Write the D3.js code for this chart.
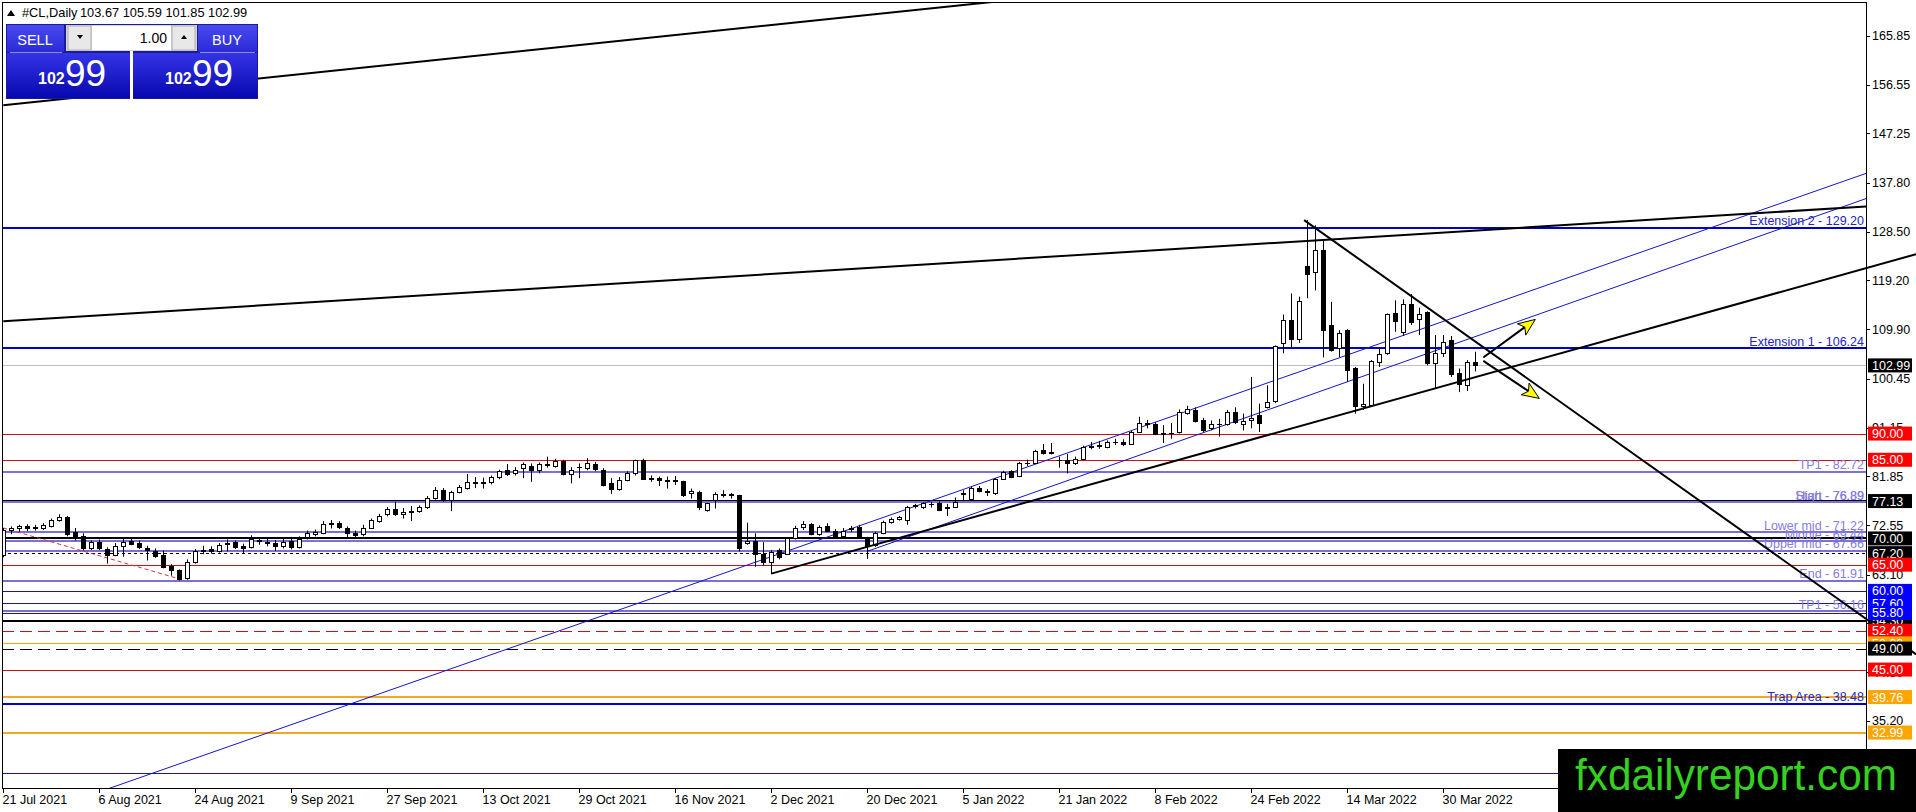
<!DOCTYPE html>
<html><head><meta charset="utf-8">
<script src="https://cdn.jsdelivr.net/npm/d3@7"></script>
<style>
html,body{margin:0;padding:0;background:#fff;overflow:hidden}
svg{display:block}
text{font-family:"Liberation Sans",Arial,sans-serif}
</style></head><body>
<svg id="c" width="1916" height="812"></svg>
<script>
// ---------------- DATA ----------------
const symbolTitle = "#CL,Daily";
const headerValues = "103.67 105.59 101.85 102.99";
const opens = [66.9,71.6,71.9,72.3,71.9,72.0,72.4,73.6,74.0,71.3,
70.5,68.2,69.3,67.9,66.9,68.6,69.5,69.1,68.2,67.7,
66.8,64.7,63.9,62.4,65.6,67.6,67.9,67.6,69.2,69.4,
68.6,68.4,69.7,69.4,69.2,68.5,69.5,68.3,70.2,70.9,
71.1,72.8,73.0,72.0,71.1,70.9,72.0,73.3,74.6,75.6,
74.7,75.0,75.2,76.0,77.8,79.2,77.3,78.9,79.7,80.7,
80.6,80.7,81.7,83.0,82.4,83.5,83.8,83.0,84.0,83.8,
84.7,82.3,83.6,83.4,84.2,83.1,80.5,79.5,81.2,82.4,
84.9,81.5,81.5,81.2,80.9,80.9,78.6,78.9,75.5,77.3,
78.3,78.4,78.2,69.2,69.5,67.1,65.6,67.8,67.1,70.0,
72.1,72.7,70.8,72.3,71.4,70.4,71.8,72.1,69.8,68.8,
71.0,73.2,73.8,73.6,76.1,76.0,76.6,76.8,76.0,76.0,
78.5,77.6,79.7,79.0,78.6,81.4,82.8,81.9,84.3,84.4,
86.8,86.3,85.0,85.0,84.3,85.2,87.5,87.6,87.5,88.3,
88.4,88.1,90.3,92.0,91.8,90.0,90.1,90.3,94.0,94.5,
92.5,91.0,91.8,91.9,94.2,91.8,92.5,93.5,95.1,96.2,
107.3,111.6,108.1,121.9,120.8,125.0,110.7,106.3,109.7,102.5,
95.3,95.4,103.7,105.3,112.9,109.4,114.7,111.9,113.1,103.5,
105.4,107.8,101.6,99.2,103.67];
const highs = [72.0,72.3,72.6,72.7,72.6,72.9,73.8,74.6,74.3,72.0,
71.0,69.6,69.8,68.3,69.1,69.9,69.9,69.6,68.6,68.1,
67.7,65.1,64.1,66.0,68.0,68.6,68.5,69.1,69.8,69.6,
69.0,70.6,70.2,69.9,69.7,69.9,70.3,70.4,71.5,71.7,
73.3,73.5,73.3,72.3,71.5,72.6,73.8,74.7,76.0,77.0,
75.8,76.2,76.3,78.1,79.8,79.6,79.1,80.2,82.3,81.7,
81.6,82.0,83.1,84.2,83.6,84.5,84.3,84.5,85.6,85.2,
85.0,83.6,84.3,85.3,84.6,83.4,81.5,81.7,82.8,85.0,
85.2,82.0,81.8,81.8,81.9,81.0,79.5,79.1,76.8,78.8,
79.2,78.7,78.3,73.0,71.0,69.3,67.8,68.1,70.0,72.4,
73.3,72.9,72.5,72.9,71.8,72.0,72.4,72.6,70.3,71.3,
73.4,74.0,74.3,76.2,76.6,76.9,77.0,77.1,76.6,77.8,
79.2,79.9,80.0,79.4,81.5,82.9,83.0,84.6,85.0,86.9,
88.0,88.2,85.6,86.1,85.6,87.7,88.4,88.6,88.7,89.0,
88.9,90.5,93.2,92.6,92.2,91.6,92.0,94.6,95.3,95.0,
93.0,92.5,92.8,94.5,95.0,93.8,100.8,95.7,99.2,106.8,
112.7,116.7,116.1,130.7,129.7,126.9,115.1,109.7,109.9,102.7,
99.5,104.0,106.5,112.9,115.4,115.6,116.6,114.0,113.3,108.8,
108.8,108.6,102.4,104.0,105.59];
const lows = [66.4,70.8,71.3,71.4,71.5,71.6,72.1,73.2,70.4,69.6,
67.7,67.8,67.8,65.2,66.6,66.5,68.7,68.0,65.8,66.3,
64.3,62.9,62.0,62.1,65.2,67.0,67.1,67.3,67.5,68.0,
67.2,68.1,68.8,68.5,67.6,68.1,67.9,68.1,69.8,70.4,
70.8,71.9,71.8,70.0,70.1,70.4,71.9,73.0,74.2,74.3,
73.8,73.3,74.9,75.6,77.4,77.0,75.2,78.6,79.3,79.6,
79.5,80.3,81.3,81.9,82.0,81.5,80.8,82.4,83.5,83.5,
82.0,80.5,81.5,83.0,82.8,79.9,78.5,79.1,80.9,82.0,
81.2,80.8,80.0,79.5,80.2,77.9,77.6,75.4,75.1,75.7,
77.8,77.6,67.5,68.8,64.6,64.8,63.2,66.0,66.9,69.8,
71.6,70.6,70.5,71.2,70.2,69.9,71.2,70.0,66.1,68.4,
70.8,72.8,73.4,72.6,75.7,75.6,75.9,75.2,74.3,75.8,
77.1,77.4,78.8,78.1,78.3,81.2,81.5,81.7,83.8,84.2,
86.0,86.0,83.5,82.4,84.0,85.0,87.0,87.1,87.2,87.8,
87.6,87.9,90.1,91.0,89.7,88.2,89.0,90.0,93.6,92.1,
90.3,90.6,89.4,91.5,91.8,90.6,91.0,90.3,94.8,95.8,
105.3,106.5,107.3,115.8,117.3,104.5,105.6,104.6,99.9,93.8,
94.5,95.2,102.7,105.0,109.4,108.6,110.7,108.8,103.0,98.6,
104.6,100.8,97.9,98.1,101.85];
const closes = [71.6,72.0,72.3,71.9,72.1,72.5,73.6,74.0,70.9,70.3,
68.1,69.3,68.1,66.9,68.6,69.4,69.0,68.3,67.8,66.7,
64.6,63.9,62.3,65.6,67.6,67.8,67.6,68.7,69.0,68.4,
68.2,69.8,69.5,69.2,68.5,69.4,68.3,69.8,71.0,71.2,
72.8,72.9,72.2,71.1,70.7,72.0,73.5,74.3,75.6,74.6,
75.0,75.3,76.0,77.8,79.2,77.3,78.9,79.8,80.8,80.6,
80.7,81.8,82.9,82.3,83.1,84.2,83.1,84.2,84.1,84.8,
82.3,83.1,83.7,84.3,83.3,80.2,79.5,81.2,82.4,84.9,
81.4,81.4,81.2,81.0,81.1,78.3,79.1,76.0,76.7,78.5,
78.4,78.2,68.2,69.5,67.1,65.5,67.4,66.5,70.0,71.9,
72.8,70.8,72.1,71.4,70.4,71.4,71.9,70.2,68.5,71.1,
73.2,73.8,74.0,76.0,76.3,76.7,76.5,75.4,75.8,77.0,
78.7,79.7,79.1,78.8,81.4,82.7,81.7,84.4,84.4,86.7,
86.2,86.5,84.9,84.3,85.2,87.5,87.6,87.8,88.3,88.4,
88.0,90.3,92.0,91.9,89.9,90.1,90.2,94.1,94.6,92.4,
90.6,91.8,91.9,94.1,92.2,92.4,93.0,92.0,96.0,106.6,
111.6,108.1,115.2,120.5,125.0,109.8,106.0,109.2,102.1,95.3,
95.6,103.8,105.1,112.8,111.5,114.7,111.3,112.7,103.5,105.3,
107.5,101.3,99.5,103.7,102.99];

const dateLabels = ["21 Jul 2021","6 Aug 2021","24 Aug 2021","9 Sep 2021","27 Sep 2021","13 Oct 2021","29 Oct 2021","16 Nov 2021","2 Dec 2021","20 Dec 2021","5 Jan 2022","21 Jan 2022","8 Feb 2022","24 Feb 2022","14 Mar 2022","30 Mar 2022"];
const dateLabelBars = [0,12,24,36,48,60,72,84,96,108,120,132,144,156,168,180];
const priceTicks = [165.85,156.55,147.25,137.80,128.50,119.20,109.90,100.45,91.15,81.85,72.55,63.10,53.80,44.50,35.20,25.90];

// horizontal levels: price, kind, text label (for named levels) / box (for priced levels)
const levelPrices = [129.20,106.24,102.99,90.00,85.00,82.72,77.13,76.89,76.89,71.22,70.00,69.44,67.66,67.20,65.00,61.91,60.00,57.60,56.16,54.30,55.80,52.40,50.00,49.00,45.00,39.76,38.48,32.99,25.20];
const levelKinds  = ["ext","ext","current","red","red","fibo","black","fibo","fibo","fibo","black","fibo","fibo","blackdot","red","fibo","navy","navy","fibo","black","navy","reddash","orange","blackdash","red","orange2","ext","orange2","navy"];
const levelNames  = ["Extension 2 - 129.20","Extension 1 - 106.24","","","","TP1 - 82.72","","Start - 76.89","High - 76.89","Lower mid - 71.22","","Middle - 69.44","Upper mid - 67.66","","","End - 61.91","","","TP1 - 56.16","","","","","","","","Trap Area - 38.48","",""];
const levelBoxed  = [false,false,true,true,true,false,true,false,false,false,true,false,false,true,true,false,true,true,false,true,true,true,true,true,true,true,false,true,false];

// trend lines as [bar1, price1, bar2, price2]
const trendTop      = [0, 152.6, 130, 173.3];
const trendLong     = [0, 111.4, 232.84, 133.3];
const trendSupport  = [96.0, 63.3, 239.1, 124.2];
const trendDown     = [162.6, 130.7, 239.1, 47.9];
const channelUpper  = [11.84, 21.6, 232.84, 139.6];
const channelLower  = [108.1, 67.6, 232.84, 134.8];
const redDashed     = [0, 72.0, 22, 62.3];
const arrowUp       = [185.0, 104.5, 191.5, 111.76];
const arrowDown     = [185.0, 103.86, 192.0, 96.7];

const sellPrice = ["102","99"], buyPrice = ["102","99"], lotSize = "1.00";
const watermark = "fxdailyreport.com";

// ---------------- STYLES ----------------
const W = 1916, H = 812, PR = 1866, PB = 788, PT = 2;
const styles = {
  ext:      {stroke:"#0000cd", w:2, dash:null, text:"#2424c4", box:"#0000ff"},
  current:  {stroke:"#c0c0c0", w:1, dash:null, box:"#000000"},
  red:      {stroke:"#d01010", w:1, dash:null, box:"#ff0000"},
  reddash:  {stroke:"#d01010", w:1, dash:"12,6", box:"#ff0000"},
  fibo:     {stroke:"#7b70d8", w:2, dash:null, text:"#857ce2"},
  black:    {stroke:"#000000", w:2, dash:null, box:"#000000"},
  blackdot: {stroke:"#000000", w:1, dash:"3,3", box:"#000000"},
  blackdash:{stroke:"#000000", w:1, dash:"12,6", box:"#000000"},
  navy:     {stroke:"#1a1aa0", w:1, dash:null, box:"#0000ff"},
  orange:   {stroke:"#ffa500", w:1, dash:null, box:"#ffa500"},
  orange2:  {stroke:"#f5a623", w:2, dash:null, box:"#ffa500"}
};

// ---------------- SCALES ----------------
const x = d3.scaleLinear().domain([0,184]).range([3.3,1475.3]);
const y = d3.scaleLinear().domain([22.42,172.28]).range([PB,PT]);
const svg = d3.select("#c");
const defs = svg.append("defs");
defs.append("clipPath").attr("id","plot").append("rect").attr("x",2).attr("y",PT).attr("width",PR-2).attr("height",PB-PT);
defs.append("clipPath").attr("id","wide").append("rect").attr("x",2).attr("y",PT).attr("width",W-2).attr("height",PB-PT);
const g1 = defs.append("linearGradient").attr("id","gBig").attr("x1",0).attr("y1",0).attr("x2",0).attr("y2",1);
g1.append("stop").attr("offset","0").attr("stop-color","#3434e6");
g1.append("stop").attr("offset","1").attr("stop-color","#0808b0");
const g2 = defs.append("linearGradient").attr("id","gHead").attr("x1",0).attr("y1",0).attr("x2",0).attr("y2",1);
g2.append("stop").attr("offset","0").attr("stop-color","#4a4af0");
g2.append("stop").attr("offset","1").attr("stop-color","#2a2ad8");

svg.append("rect").attr("width",W).attr("height",H).attr("fill","#fff");

// horizontal levels
const plot = svg.append("g").attr("clip-path","url(#plot)");
levelPrices.forEach((p,i)=>{
  const s = styles[levelKinds[i]];
  const yy = Math.round(y(p)) + (s.w===1?0.5:0);
  plot.append("line").attr("x1",2).attr("x2",PR).attr("y1",yy).attr("y2",yy)
    .attr("stroke",s.stroke).attr("stroke-width",s.w).attr("stroke-dasharray",s.dash);
});
levelPrices.forEach((p,i)=>{
  if(!levelNames[i]) return;
  const s = styles[levelKinds[i]];
  svg.append("text").attr("x",PR-2).attr("y",y(p)-2.5).attr("text-anchor","end")
    .attr("font-size","12.5px").attr("fill",s.text).text(levelNames[i]);
});

// channel + red dashed (clipped to plot)
function seg(g, a, stroke, w, dash){
  g.append("line").attr("x1",x(a[0])).attr("y1",y(a[1])).attr("x2",x(a[2])).attr("y2",y(a[3]))
   .attr("stroke",stroke).attr("stroke-width",w).attr("stroke-dasharray",dash||null);
}
seg(plot, channelUpper, "#1414c8", 1);
seg(plot, channelLower, "#1414c8", 1);
seg(plot, redDashed, "#e03030", 1, "4,3");

// candles
const bars = d3.range(opens.length).map(i=>({i,o:opens[i],h:highs[i],l:lows[i],c:closes[i]}));
const cg = plot.append("g");
cg.selectAll("line.w").data(bars).join("line")
  .attr("x1",d=>Math.round(x(d.i))+0.5).attr("x2",d=>Math.round(x(d.i))+0.5)
  .attr("y1",d=>y(d.h)).attr("y2",d=>y(d.l)).attr("stroke","#000").attr("stroke-width",1);
cg.selectAll("rect.b").data(bars).join("rect")
  .attr("x",d=>Math.round(x(d.i))-1.5).attr("width",4)
  .attr("y",d=>Math.round(y(Math.max(d.o,d.c)))+0.5)
  .attr("height",d=>Math.max(0.01,Math.round(y(Math.min(d.o,d.c)))-Math.round(y(Math.max(d.o,d.c)))))
  .attr("fill",d=>d.c>d.o?"#fff":"#000").attr("stroke","#000").attr("stroke-width",1);

// black trend lines
seg(plot, trendTop, "#000", 2);
seg(plot, trendLong, "#000", 2);
const wide = svg.append("g").attr("clip-path","url(#wide)");
seg(wide, trendSupport, "#000", 2);
seg(wide, trendDown, "#000", 2);

// arrows
function arrow(a){
  const x1=x(a[0]), y1=y(a[1]), x2=x(a[2]), y2=y(a[3]);
  const dx=x2-x1, dy=y2-y1, L=Math.hypot(dx,dy), ux=dx/L, uy=dy/L, px=-uy, py=ux;
  const hl=17, hw=7;
  const bx=x2-ux*hl, by=y2-uy*hl;
  svg.append("line").attr("x1",x1).attr("y1",y1).attr("x2",bx+ux*4).attr("y2",by+uy*4).attr("stroke","#000").attr("stroke-width",2);
  svg.append("path").attr("d",`M${x2},${y2}L${bx+px*hw},${by+py*hw}L${bx+ux*4},${by+uy*4}L${bx-px*hw},${by-py*hw}Z`)
    .attr("fill","#ffff00").attr("stroke","#000").attr("stroke-width",1);
}
arrow(arrowUp); arrow(arrowDown);

// frame
svg.append("line").attr("x1",2).attr("x2",PR).attr("y1",PT+0.5).attr("y2",PT+0.5).attr("stroke","#000");
svg.append("line").attr("x1",2.5).attr("x2",2.5).attr("y1",PT).attr("y2",PB).attr("stroke","#000");
svg.append("line").attr("x1",PR+0.5).attr("x2",PR+0.5).attr("y1",PT).attr("y2",PB).attr("stroke","#000");
svg.append("line").attr("x1",2).attr("x2",PR).attr("y1",PB+0.5).attr("y2",PB+0.5).attr("stroke","#000");

// y axis ticks
priceTicks.forEach(p=>{
  const yy=Math.round(y(p))+0.5;
  svg.append("line").attr("x1",PR).attr("x2",PR+4).attr("y1",yy).attr("y2",yy).attr("stroke","#000");
  svg.append("text").attr("x",PR+6).attr("y",y(p)).attr("dy","0.36em").attr("font-size","12.5px").attr("fill","#000").text(p.toFixed(2));
});
// price boxes
levelPrices.forEach((p,i)=>{
  if(!levelBoxed[i]) return;
  const s = styles[levelKinds[i]];
  const yy = y(p);
  svg.append("rect").attr("x",PR+2).attr("y",yy-7).attr("width",44).attr("height",14).attr("fill",s.box);
  svg.append("text").attr("x",PR+6).attr("y",yy).attr("dy","0.36em").attr("font-size","12.5px").attr("fill","#fff").text(p.toFixed(2));
});

// x axis
dateLabelBars.forEach((b,i)=>{
  const xx=Math.round(x(b))+0.5;
  svg.append("line").attr("x1",xx).attr("x2",xx).attr("y1",PB).attr("y2",PB+5).attr("stroke","#000");
  svg.append("text").attr("x",xx-1).attr("y",804).attr("font-size","12.5px").attr("fill","#000").text(dateLabels[i]);
});

// header
svg.append("path").attr("d","M7,16L11,10L15,16Z").attr("fill","#000");
svg.append("text").attr("x",22).attr("y",17).attr("font-size","12.8px").attr("fill","#000").text(symbolTitle);
svg.append("text").attr("x",80).attr("y",17).attr("font-size","12.8px").attr("fill","#000").text(headerValues);

// trade panel
const pn = svg.append("g");
pn.append("rect").attr("x",6).attr("y",24).attr("width",252).attr("height",75).attr("fill","#1a1a9a");
pn.append("rect").attr("x",7).attr("y",25).attr("width",57).attr("height",27).attr("fill","url(#gHead)");
pn.append("rect").attr("x",198).attr("y",25).attr("width",59).attr("height",27).attr("fill","url(#gHead)");
pn.append("rect").attr("x",66).attr("y",25).attr("width",131).attr("height",26).attr("fill","#d4d4d4");
pn.append("rect").attr("x",68).attr("y",26).attr("width",23).attr("height",24).attr("fill","#e8e8e8").attr("stroke","#b0b0b0");
pn.append("rect").attr("x",92).attr("y",26).attr("width",79).attr("height",24).attr("fill","#fff");
pn.append("rect").attr("x",172).attr("y",26).attr("width",23).attr("height",24).attr("fill","#e8e8e8").attr("stroke","#b0b0b0");
pn.append("path").attr("d","M77,35L83,35L80,39Z").attr("fill","#000");
pn.append("path").attr("d","M181,39L187,39L184,35Z").attr("fill","#000");
pn.append("text").attr("x",167).attr("y",43).attr("text-anchor","end").attr("font-size","14px").attr("fill","#000").text(lotSize);
pn.append("text").attr("x",35).attr("y",45).attr("text-anchor","middle").attr("font-size","14.5px").attr("fill","#fff").text("SELL");
pn.append("text").attr("x",227).attr("y",45).attr("text-anchor","middle").attr("font-size","14.5px").attr("fill","#fff").text("BUY");
pn.append("rect").attr("x",7).attr("y",53).attr("width",123).attr("height",45).attr("fill","url(#gBig)");
pn.append("rect").attr("x",133).attr("y",53).attr("width",124).attr("height",45).attr("fill","url(#gBig)");
pn.append("rect").attr("x",130).attr("y",51).attr("width",3).attr("height",48).attr("fill","#fff");
pn.append("line").attr("x1",10).attr("x2",62).attr("y1",52.5).attr("y2",52.5).attr("stroke","#8a8af0");
pn.append("line").attr("x1",200).attr("x2",255).attr("y1",52.5).attr("y2",52.5).attr("stroke","#8a8af0");
pn.append("text").attr("x",38).attr("y",84).attr("font-size","16px").attr("font-weight","bold").attr("fill","#fff").text(sellPrice[0]);
pn.append("text").attr("x",65).attr("y",86).attr("font-size","37px").attr("fill","#fff").text(sellPrice[1]);
pn.append("text").attr("x",165).attr("y",84).attr("font-size","16px").attr("font-weight","bold").attr("fill","#fff").text(buyPrice[0]);
pn.append("text").attr("x",192).attr("y",86).attr("font-size","37px").attr("fill","#fff").text(buyPrice[1]);

// watermark
svg.append("rect").attr("x",1558).attr("y",749).attr("width",358).attr("height",63).attr("fill","#000");
svg.append("text").attr("x",1575).attr("y",790).attr("font-size","45px").attr("fill","#35d11f")
  .attr("textLength",322).attr("lengthAdjust","spacingAndGlyphs").text(watermark);
</script>
</body></html>
